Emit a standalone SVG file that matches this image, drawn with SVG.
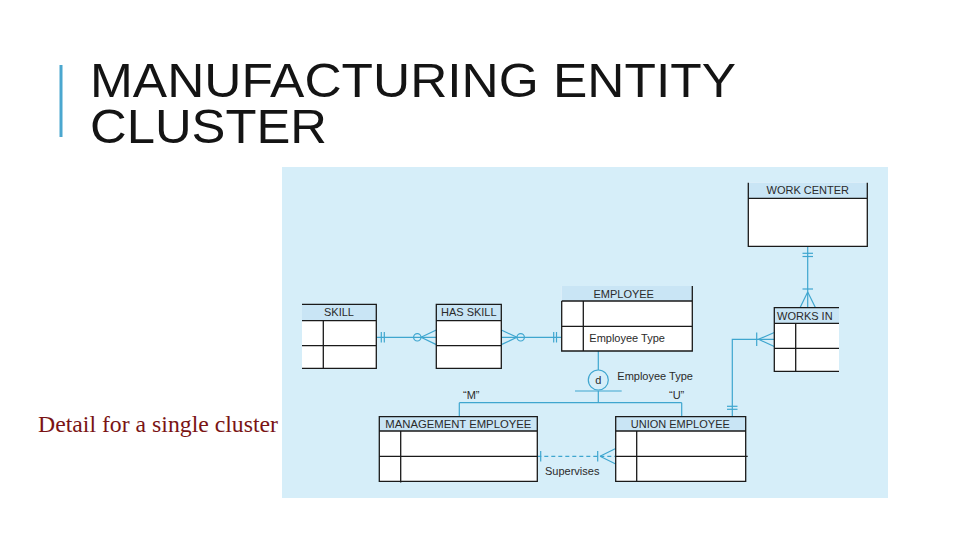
<svg xmlns="http://www.w3.org/2000/svg" width="960" height="540" viewBox="0 0 960 540">
<style>
.box{fill:#ffffff;stroke:none}
.hdr{fill:#c9e5f5;stroke:none}
.ln{stroke:#1a1a1a;stroke-width:1.3;fill:none}
.lbl{font-family:"Liberation Sans",Arial,sans-serif;font-size:11px;fill:#2a2a2a}
.c{stroke:#3fa6cf;stroke-width:1.2;fill:none}
.title{font-family:"Liberation Sans",Arial,sans-serif;font-size:49px;fill:#141414}
</style>
<rect width="960" height="540" fill="#ffffff"/>
<rect x="59.5" y="65" width="3" height="72" fill="#4ba7cf"/>
<text class="title"><tspan x="90" y="97" textLength="646" lengthAdjust="spacingAndGlyphs">MANUFACTURING ENTITY</tspan><tspan x="90" y="143" textLength="237" lengthAdjust="spacingAndGlyphs">CLUSTER</tspan></text>
<text x="38" y="432" font-family="Liberation Serif,'Times New Roman',serif" font-size="23" fill="#7a1414" textLength="240" lengthAdjust="spacingAndGlyphs">Detail for a single cluster</text>
<rect x="282" y="167" width="606" height="331" fill="#d6eef9"/>

<g id="connectors">
  <!-- SKILL - HAS SKILL -->
  <line class="c" x1="376.3" y1="337.3" x2="436.3" y2="337.3"/>
  <line class="c" x1="381.3" y1="332" x2="381.3" y2="342.5"/>
  <line class="c" x1="384.3" y1="332" x2="384.3" y2="342.5"/>
  <path class="c" d="M421,337.3 L436.3,330 M421,337.3 L436.3,344.6"/>
  <circle class="c" cx="417.3" cy="337.3" r="3.7" fill="#d6eef9"/>
  <!-- HAS SKILL - EMPLOYEE -->
  <line class="c" x1="501.3" y1="337.3" x2="561.7" y2="337.3"/>
  <path class="c" d="M517,337.3 L501.3,330 M517,337.3 L501.3,344.6"/>
  <circle class="c" cx="520.7" cy="337.3" r="3.7" fill="#d6eef9"/>
  <line class="c" x1="553.7" y1="332" x2="553.7" y2="342.5"/>
  <line class="c" x1="556.5" y1="332" x2="556.5" y2="342.5"/>
  <!-- WORK CENTER - WORKS IN -->
  <line class="c" x1="807.7" y1="246.3" x2="807.7" y2="307.7"/>
  <line class="c" x1="802.5" y1="253.3" x2="813" y2="253.3"/>
  <line class="c" x1="802.5" y1="256.5" x2="813" y2="256.5"/>
  <line class="c" x1="802.5" y1="289" x2="813" y2="289"/>
  <path class="c" d="M807.7,292 L800,307.7 M807.7,292 L815.5,307.7"/>
  <!-- WORKS IN - UNION EMPLOYEE -->
  <polyline class="c" points="774.3,339.3 732.3,339.3 732.3,416.7"/>
  <line class="c" x1="756.7" y1="332.5" x2="756.7" y2="346"/>
  <path class="c" d="M758.5,339.3 L774.3,332.5 M758.5,339.3 L774.3,346.5"/>
  <line class="c" x1="727" y1="406.3" x2="737.5" y2="406.3"/>
  <line class="c" x1="727" y1="409.3" x2="737.5" y2="409.3"/>
  <!-- EMPLOYEE subtypes -->
  <line class="c" x1="598.3" y1="351" x2="598.3" y2="370"/>
  <circle class="c" cx="598.3" cy="380" r="10" fill="#d6eef9"/>
  <line class="c" x1="575" y1="391" x2="621.7" y2="391"/>
  <line class="c" x1="598.3" y1="391" x2="598.3" y2="402.7"/>
  <line class="c" x1="459.3" y1="402.7" x2="681.7" y2="402.7"/>
  <line class="c" x1="459.3" y1="402.7" x2="459.3" y2="416.7"/>
  <line class="c" x1="681.7" y1="402.7" x2="681.7" y2="416.7"/>
  <!-- Supervises -->
  <line class="c" x1="537.3" y1="456.3" x2="615.7" y2="456.3" stroke-dasharray="4 3"/>
  <line class="c" x1="540.7" y1="451" x2="540.7" y2="461.5"/>
  <line class="c" x1="597.7" y1="451" x2="597.7" y2="461.5"/>
  <path class="c" d="M600,456.3 L615.7,448.5 M600,456.3 L615.7,464"/>
  <text class="lbl" x="598.3" y="384" text-anchor="middle" font-size="11">d</text>
  <text class="lbl" x="617.3" y="380">Employee Type</text>
  <text class="lbl" x="463" y="399">“M”</text>
  <text class="lbl" x="669" y="399">“U”</text>
  <text class="lbl" x="545" y="475">Supervises</text>
</g>

<g id="skill">
  <rect class="box" x="302" y="304.3" width="74.3" height="64"/>
  <rect class="hdr" x="302" y="304.3" width="74.3" height="16.4"/>
  <path class="ln" d="M302,304.3 H376.3 V368.3 H302 M302,320.7 H376.3 M302,345.7 H376.3 M323.3,320.7 V368.3"/>
  <text class="lbl" x="339" y="316" text-anchor="middle">SKILL</text>
</g>

<g id="has-skill">
  <rect class="box" x="436.3" y="304.3" width="65" height="64"/>
  <rect class="hdr" x="436.3" y="304.3" width="65" height="16.4"/>
  <path class="ln" d="M436.3,304.3 H501.3 V368.3 H436.3 Z M436.3,320.7 H501.3 M436.3,345.7 H501.3"/>
  <text class="lbl" x="468.8" y="316" text-anchor="middle">HAS SKILL</text>
</g>

<g id="employee">
  <rect class="box" x="561.7" y="286" width="130.6" height="65"/>
  <rect class="hdr" x="561.7" y="286" width="130.6" height="15"/>
  <path class="ln" d="M561.7,301 V351 H692.3 V286 M561.7,301 H692.3 M561.7,326.3 H692.3 M583.3,301 V351"/>
  <text class="lbl" x="623.7" y="297.5" text-anchor="middle">EMPLOYEE</text>
  <text class="lbl" x="589.3" y="341.7">Employee Type</text>
</g>

<g id="work-center">
  <rect class="box" x="748.3" y="182.7" width="119" height="63.6"/>
  <rect class="hdr" x="748.3" y="182.7" width="119" height="15.6"/>
  <path class="ln" d="M748.3,182.7 V246.3 H867.3 V182.7 M748.3,198.3 H867.3"/>
  <text class="lbl" x="807.8" y="194" text-anchor="middle">WORK CENTER</text>
</g>

<g id="works-in">
  <rect class="box" x="774.3" y="307.7" width="64.7" height="63.6"/>
  <rect class="hdr" x="774.3" y="307.7" width="64.7" height="15.6"/>
  <path class="ln" d="M839,307.7 H774.3 V371.3 H839 M774.3,323.3 H839 M774.3,348.3 H839 M795.7,323.3 V371.3"/>
  <text class="lbl" x="777" y="320">WORKS IN</text>
</g>

<g id="management-employee">
  <rect class="box" x="379.3" y="416.7" width="158" height="64.6"/>
  <rect class="hdr" x="379.3" y="416.7" width="158" height="14.3"/>
  <path class="ln" d="M379.3,416.7 H537.3 V481.3 H379.3 Z M379.3,431 H537.3 M379.3,456.3 H537.3 M400.7,431 V482.5"/>
  <text class="lbl" x="458.3" y="427.7" text-anchor="middle" textLength="146" lengthAdjust="spacingAndGlyphs">MANAGEMENT EMPLOYEE</text>
</g>

<g id="union-employee">
  <rect class="box" x="615.7" y="416.7" width="130" height="64.6"/>
  <rect class="hdr" x="615.7" y="416.7" width="130" height="14.3"/>
  <path class="ln" d="M615.7,416.7 H745.7 V481.3 H615.7 Z M615.7,431 H745.7 M615.7,456.3 H747.7 M636.7,431 V481.3"/>
  <text class="lbl" x="680.3" y="427.7" text-anchor="middle">UNION EMPLOYEE</text>
</g>
</svg>
